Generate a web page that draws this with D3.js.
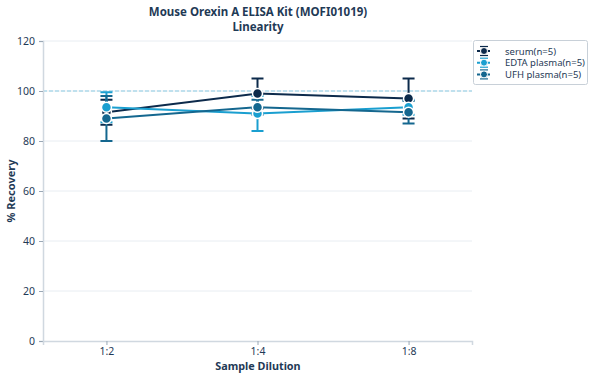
<!DOCTYPE html>
<html><head><meta charset="utf-8">
<script src="https://cdn.jsdelivr.net/npm/d3@7"></script>
<style>body{margin:0;background:#fff;font-family:"Noto Sans","Open Sans",sans-serif;}</style>
</head><body><svg id="c" width="590" height="380"></svg>
<script>
const categories = ["1:2","1:4","1:8"];
const seriesNames = ["serum(n=5)","EDTA plasma(n=5)","UFH plasma(n=5)"];
const serumValues = [91.5, 99, 97];
const serumErr = [5, 6, 8];
const edtaValues = [93.5, 91, 93.5];
const edtaErr = [6, 7, 3];
const ufhValues = [89, 93.5, 91.5];
const ufhErr = [9, 3, 4.5];
const yTicks = [0,20,40,60,80,100,120];
const colors = ["#0c2a4b","#1a9fd0","#14678f"];

const series = [
  {name: seriesNames[0], values: serumValues, err: serumErr, color: colors[0]},
  {name: seriesNames[1], values: edtaValues, err: edtaErr, color: colors[1]},
  {name: seriesNames[2], values: ufhValues, err: ufhErr, color: colors[2]}
];

const svg = d3.select("#c");
const L = 43, R = 472, T = 41, B = 341;
const x = d3.scalePoint().domain(categories).range([L, R]).padding(0.42);
const y = d3.scaleLinear().domain([0,120]).range([B, T]);
const txt = "#1f3a56";

// grid
svg.append("g").selectAll("line").data(yTicks.filter(d=>d>0)).join("line")
  .attr("x1", L).attr("x2", R).attr("y1", d=>y(d)).attr("y2", d=>y(d))
  .attr("stroke", "#e8edf2").attr("stroke-width", 1);
// reference line
svg.append("line").attr("x1", L).attr("x2", R).attr("y1", y(100)).attr("y2", y(100))
  .attr("stroke", "#8ccbe2").attr("stroke-width", 1).attr("stroke-dasharray", "4,2");

// axes
const yAxis = svg.append("g").attr("transform", `translate(${L},0)`)
  .call(d3.axisLeft(y).tickValues(yTicks).tickSize(4).tickPadding(4));
const xAxis = svg.append("g").attr("transform", `translate(0,${B})`)
  .call(d3.axisBottom(x).tickSize(4).tickPadding(3));
[yAxis, xAxis].forEach(g => {
  g.select(".domain").attr("stroke", "#d0d8e0").attr("stroke-width", 1.5);
  g.selectAll(".tick line").attr("stroke", "#9aa8b6");
  g.selectAll("text").attr("fill", txt).style("font-size", "10.5px").style("font-family", '"Noto Sans",sans-serif');
});

// error bars
series.forEach(s => {
  const g = svg.append("g");
  categories.forEach((c, i) => {
    const cx = x(c), top = y(s.values[i] + s.err[i]), bot = y(s.values[i] - s.err[i]);
    g.append("line").attr("x1", cx).attr("x2", cx).attr("y1", top).attr("y2", bot).attr("stroke", s.color).attr("stroke-width", 2);
    [top, bot].forEach(yy => g.append("line").attr("x1", cx-6).attr("x2", cx+6).attr("y1", yy).attr("y2", yy).attr("stroke", s.color).attr("stroke-width", 2));
  });
});
// lines
const line = d3.line().x((d,i)=>x(categories[i])).y(d=>y(d));
series.forEach(s => {
  svg.append("path").attr("d", line(s.values)).attr("fill", "none").attr("stroke", s.color).attr("stroke-width", 2);
});
// points
series.forEach(s => {
  svg.append("g").selectAll("circle").data(s.values).join("circle")
    .attr("cx", (d,i)=>x(categories[i])).attr("cy", d=>y(d)).attr("r", 5)
    .attr("fill", s.color).attr("stroke", "#fff").attr("stroke-width", 1.5);
});

// titles
svg.append("text").attr("x", 258).attr("y", 16).attr("text-anchor", "middle")
  .attr("fill", txt).style("font-size", "11.5px").style("font-weight", "bold").text("Mouse Orexin A ELISA Kit (MOFI01019)");
svg.append("text").attr("x", 258).attr("y", 31).attr("text-anchor", "middle")
  .attr("fill", txt).style("font-size", "11.5px").style("font-weight", "bold").text("Linearity");
svg.append("text").attr("x", 258).attr("y", 370).attr("text-anchor", "middle")
  .attr("fill", txt).style("font-size", "10.8px").style("font-weight", "bold").text("Sample Dilution");
svg.append("text").attr("transform", "translate(15,191) rotate(-90)").attr("text-anchor", "middle")
  .attr("fill", txt).style("font-size", "11px").style("font-weight", "bold").text("% Recovery");

// legend
const lg = svg.append("g").attr("transform", "translate(473,40)");
lg.append("rect").attr("x", 0.5).attr("y", 0.5).attr("width", 114).attr("height", 44).attr("rx", 2)
  .attr("fill", "#fff").attr("stroke", "#c8d0d8");
series.forEach((s, i) => {
  const yy = 11 + i * 11.7;
  const it = lg.append("g").attr("transform", `translate(0,${yy})`);
  it.append("line").attr("x1", 4).attr("x2", 18).attr("y1", 0).attr("y2", 0).attr("stroke", s.color).attr("stroke-width", 2).attr("stroke-dasharray", "3,2");
  it.append("line").attr("x1", 11).attr("x2", 11).attr("y1", -4.5).attr("y2", 4.5).attr("stroke", s.color).attr("stroke-width", 1.2);
  [-4.5, 4.5].forEach(v => it.append("line").attr("x1", 7).attr("x2", 15).attr("y1", v).attr("y2", v).attr("stroke", s.color).attr("stroke-width", 1.2));
  it.append("circle").attr("cx", 11).attr("cy", 0).attr("r", 3.5).attr("fill", s.color).attr("stroke", "#fff").attr("stroke-width", 1);
  it.append("text").attr("x", 32).attr("y", 3.5).attr("fill", txt).style("font-size", "9.5px").text(s.name);
});
</script></body></html>
